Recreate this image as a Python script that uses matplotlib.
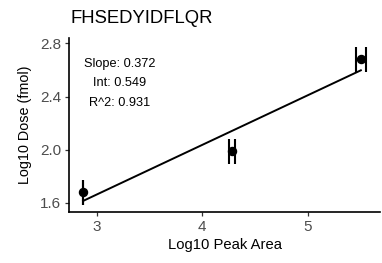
import matplotlib
matplotlib.use("Agg")
import matplotlib.pyplot as plt
import numpy as np

plt.rcParams['font.family'] = ['Liberation Sans', 'DejaVu Sans']

title = "FHSEDYIDFLQR"
log_area = [2.867, 4.280, 5.506]
log_dose = [1.683, 1.987, 2.682]
area_err = [0.003, 0.030, 0.048]
slope = 0.372
intercept = 0.549
r2 = 0.931
xticks = [3, 4, 5]
yticks = [1.6, 2.0, 2.4, 2.8]

W, H = 382, 263
fig = plt.figure(figsize=(W/100, H/100), dpi=100)
ax = fig.add_axes([69/W, 1-212.3/H, (380-69)/W, (212.3-38)/H])

xs = np.array([min(log_area), max(log_area)])
ax.plot(xs, intercept + slope*xs, color='black', lw=1.4, zorder=2)
ax.errorbar(log_area, log_dose, xerr=area_err, fmt='o', color='black',
            ms=5.8, elinewidth=1.4, capsize=9, capthick=1.5, zorder=3)

ax.text(3.215, 2.5, f"Slope: {slope}\nInt: {intercept}\nR^2: {r2}",
        ha='center', va='center', multialignment='center',
        fontsize=9.2, linespacing=1.85, color='black')

ax.set_xlim(2.733, 5.688)
ax.set_ylim(1.53, 2.84)
ax.set_xticks(xticks)
ax.set_yticks(yticks)
ax.set_yticklabels([f"{v:.1f}" for v in yticks])
for s in ['top', 'right']:
    ax.spines[s].set_visible(False)
for s in ['left', 'bottom']:
    ax.spines[s].set_linewidth(1.2)
    ax.spines[s].set_color('black')
ax.tick_params(axis='both', length=3, width=0.9, color='#333333',
               labelsize=11, labelcolor='#4d4d4d', pad=2.5)
ax.set_xlabel("Log10 Peak Area", fontsize=10.6, labelpad=3)
ax.set_ylabel("Log10 Dose (fmol)", fontsize=10.4, labelpad=6)
fig.text(70/W, 1-22.7/H, title, fontsize=13.3, ha='left', va='baseline')

fig.savefig("out.png", dpi=100)
